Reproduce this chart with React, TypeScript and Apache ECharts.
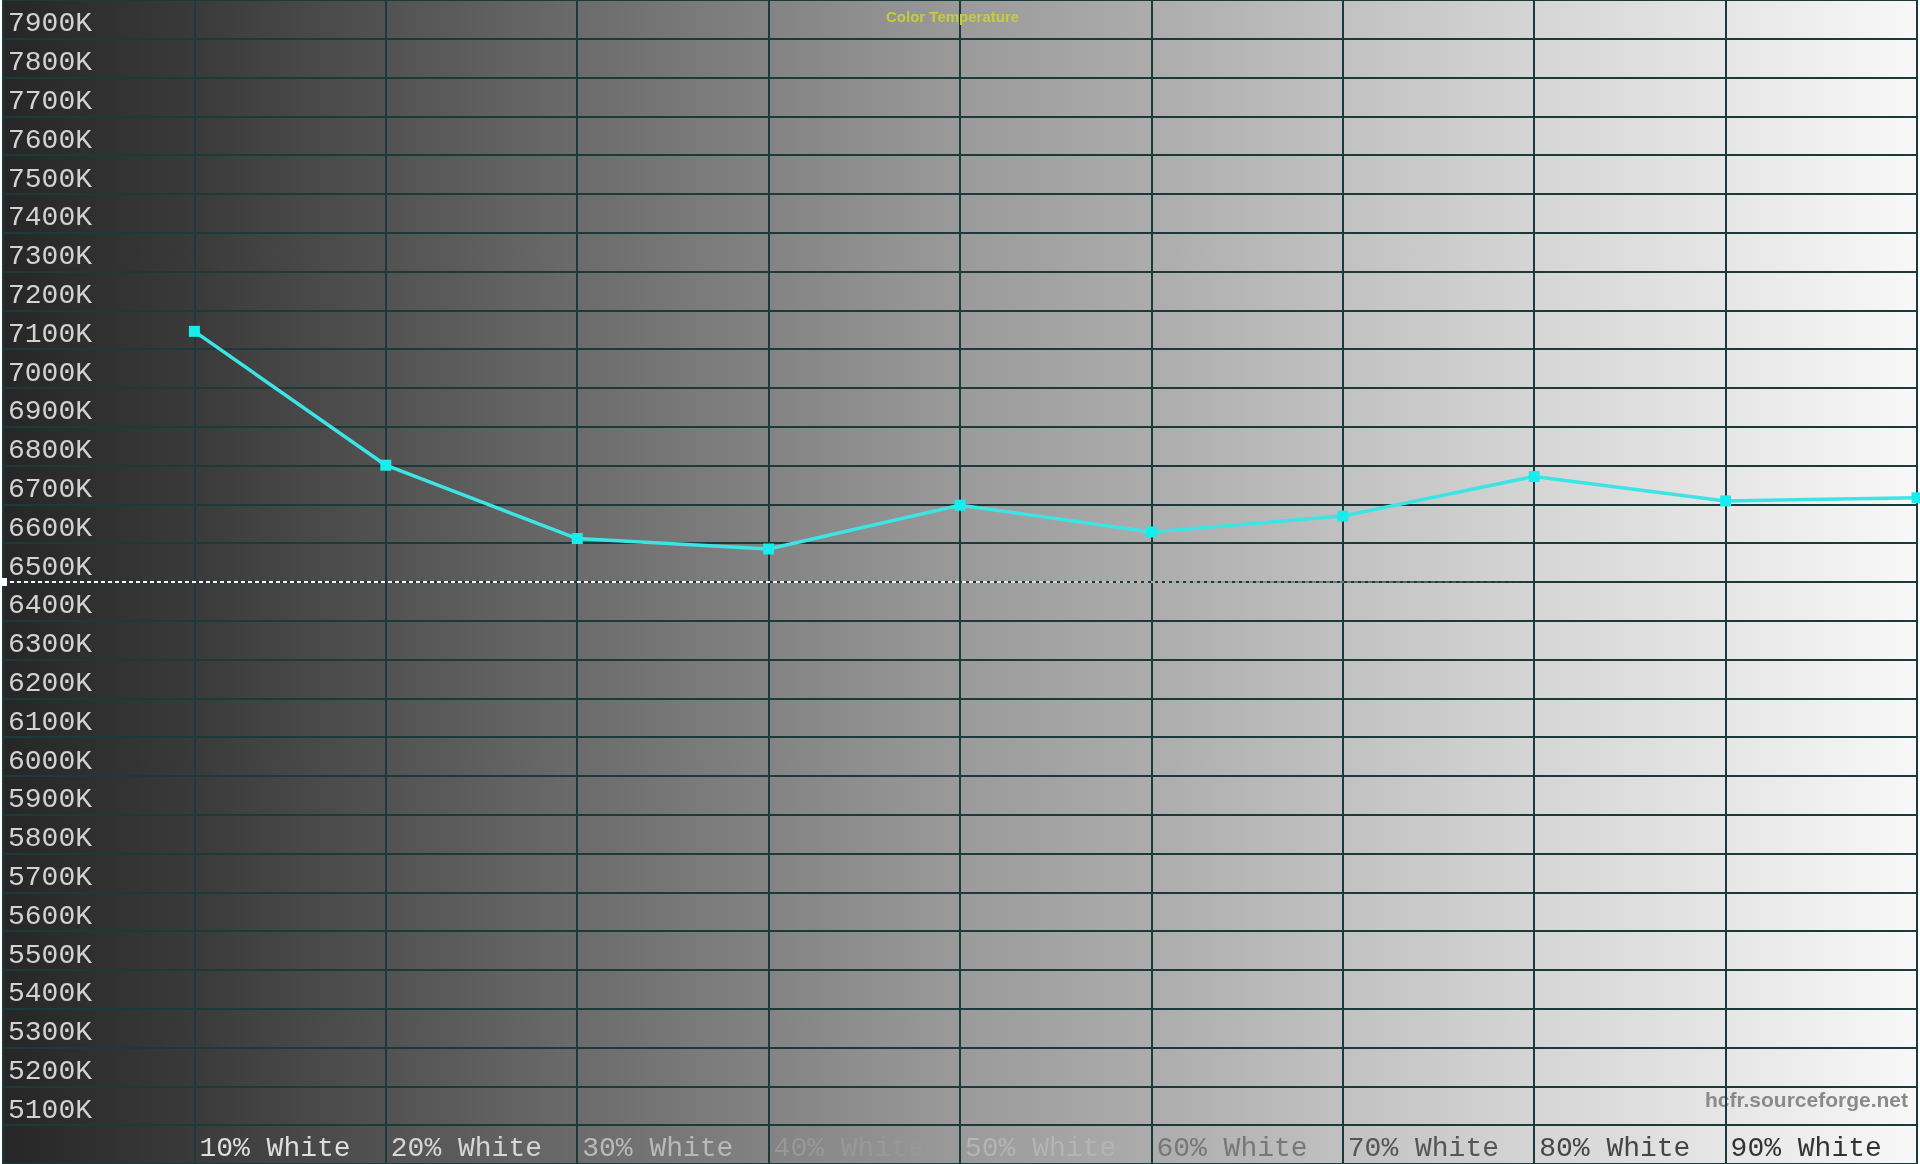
import React, { useEffect, useRef } from 'react';
import * as echarts from 'echarts';

// measurement points (percent white) and measured colour temperature (K)
const levels = [10, 20, 30, 40, 50, 60, 70, 80, 90, 100];
const temps = [7146, 6801, 6612, 6585, 6698, 6629, 6670, 6772, 6709, 6717];
const targetTemp = 6500;

// label colours per level, chosen so they read on the grey ramp
const levelLabelColors: { [k: number]: string } = {
    10: '#dedede', 20: '#d6d6d6', 30: '#b9b9b9', 40: '#989898', 50: '#b4b4b4',
    60: '#777777', 70: '#555555', 80: '#454545', 90: '#333333'
};

const rampStops = [
    '#262626', '#3a3a3a', '#525252', '#6b6b6b', '#838383', '#9a9a9a',
    '#acacac', '#c1c1c1', '#d5d5d5', '#e6e6e6', '#f8f8f8'
];

const gridColor = '#1b3b3b';
const monoFont = '"Liberation Mono", "Courier New", monospace';

const ColorTempChart = () => {
    const chartRef = useRef<HTMLDivElement>(null);

    useEffect(() => {
        if (!chartRef.current) return;
        const myChart = echarts.init(chartRef.current, null, { renderer: 'svg' });

        // the reference dashes vanish on the white end, so fade them out there
        const dashColor = new echarts.graphic.LinearGradient(0, 0, 1920, 0, [
            { offset: 0, color: 'rgba(255,255,255,1)' },
            { offset: 0.5, color: 'rgba(255,255,255,0.95)' },
            { offset: 0.8, color: 'rgba(255,255,255,0)' },
            { offset: 1, color: 'rgba(255,255,255,0)' }
        ], true);

        const option = {
            animation: false,
            title: {
                text: 'Color Temperature',
                left: 881,
                top: 4,
                textStyle: {
                    color: '#c6cd3c',
                    fontSize: 15,
                    fontWeight: 'bold',
                    fontFamily: '"Liberation Sans", Arial, sans-serif'
                }
            },
            grid: {
                left: 0, right: 0, top: 0, bottom: 0,
                show: true,
                borderWidth: 0,
                backgroundColor: new echarts.graphic.LinearGradient(0, 0, 1, 0,
                    rampStops.map((c, i) => ({ offset: i / (rampStops.length - 1), color: c })))
            },
            xAxis: {
                type: 'value',
                min: 0,
                max: 100,
                interval: 10,
                axisLine: { show: false },
                axisTick: { show: false },
                splitLine: { show: true, lineStyle: { color: gridColor, width: 2 } },
                axisLabel: {
                    inside: true,
                    margin: 16,
                    align: 'left',
                    verticalAlign: 'middle',
                    padding: [0, 0, 0, 5],
                    fontSize: 28,
                    fontFamily: monoFont,
                    color: (v: number) => levelLabelColors[v] || '#ffffff',
                    formatter: (v: number) => (v > 0 && v < 100 ? v + '% White' : '')
                }
            },
            yAxis: {
                type: 'value',
                min: 5000,
                max: 8000,
                interval: 100,
                axisLine: { show: false },
                axisTick: { show: false },
                splitLine: { show: true, lineStyle: { color: gridColor, width: 2 } },
                axisLabel: {
                    inside: true,
                    margin: 5,
                    verticalAlign: 'bottom',
                    padding: [0, 0, 1, 0],
                    fontSize: 28,
                    fontFamily: monoFont,
                    color: '#d2d2d2',
                    formatter: (v: number) => (v > 5000 && v < 8000 ? v + 'K' : '')
                }
            },
            graphic: [
                {
                    type: 'text',
                    right: 12,
                    top: 1089,
                    style: {
                        text: 'hcfr.sourceforge.net',
                        fill: '#8a8a8a',
                        font: 'bold 21px "Liberation Sans", Arial, sans-serif'
                    }
                }
            ],
            series: [
                {
                    type: 'line',
                    data: levels.map((l, i) => [l, temps[i]]),
                    symbol: 'rect',
                    symbolSize: 11,
                    itemStyle: { color: '#16eeee' },
                    lineStyle: { color: '#3ee4e4', width: 3.5 },
                    markLine: {
                        silent: true,
                        symbol: ['rect', 'none'],
                        symbolSize: 8,
                        label: { show: false },
                        lineStyle: { color: dashColor, type: [4, 3], width: 2 },
                        itemStyle: { color: '#f4f4f4' },
                        data: [{ yAxis: targetTemp }]
                    }
                }
            ]
        };

        myChart.setOption(option);

        return () => {
            myChart.dispose();
        };
    }, []);

    return (
        <div
            ref={chartRef}
            style={{ position: 'fixed', left: 0, top: 0, width: 1920, height: 1164 }}
        ></div>
    );
};

export default function App() {
    return <ColorTempChart />;
}
